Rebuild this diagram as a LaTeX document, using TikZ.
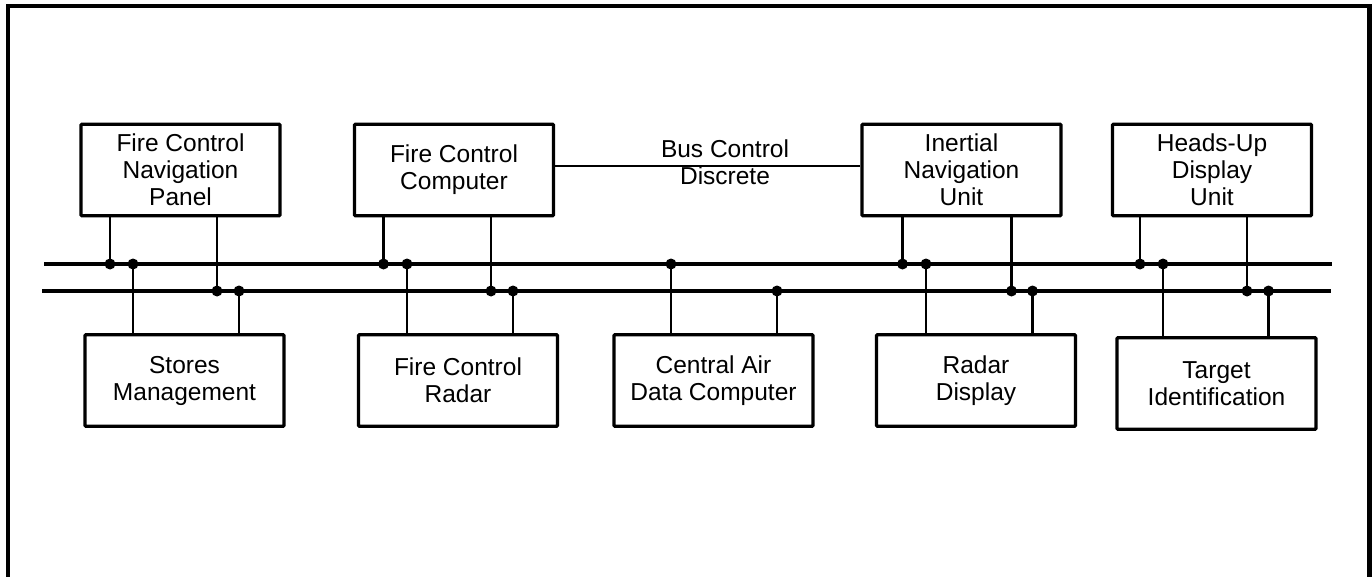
\documentclass[tikz,border=0pt]{standalone}
\usepackage{fontspec}
\setmainfont{Liberation Sans}
\usetikzlibrary{positioning}

\begin{document}
\begin{tikzpicture}[x=1pt, y=-1pt,
  box/.style={draw, line width=3.4pt, rounded corners=1pt, minimum width=199pt, minimum height=91.5pt, inner sep=0pt, align=center, font=\fontsize{24.5}{27}\selectfont},
  wire/.style={line width=2.2pt},
  bus/.style={line width=4.5pt},
  tap/.style={circle, fill, inner sep=0pt, minimum size=11pt}]
\useasboundingbox (0,0) rectangle (1372,577);
\draw [line width=4.5pt] (8,577) -- (8,6) -- (1369.5,6) -- (1369.5,577);
% top row
\node [box] (fcnp) at (180.5,170) {Fire Control\\Navigation\\Panel};
\node [box] (fcc) at (454,170) {Fire Control\\Computer};
\node [box] (inu) at (961.5,170) {Inertial\\Navigation\\Unit};
\node [box] (hud) at (1212,170) {Heads-Up\\Display\\Unit};
% bottom row
\node [box] (sm) at (184.5,380.5) {Stores\\Management};
\node [box] (fcr) at (458,380.5) {Fire Control\\Radar};
\node [box] (cadc) at (713.5,380.5) {Central Air\\Data Computer};
\node [box] (rd) at (976,380.5) {Radar\\Display};
\node [box] (tid) at (1216.5,383.5) {Target\\Identification};
% discrete
\node [align=center, inner sep=0pt, font=\fontsize{24.5}{27}\selectfont] (disc) at (725,162.5) {Bus Control\\Discrete};
\draw [wire] (fcc.east |- 0,166) -- (inu.west |- 0,166);
% buses
\coordinate (b1w) at (44,264);
\coordinate (b1e) at (1332,264);
\coordinate (b2w) at (42,291);
\coordinate (b2e) at (1331,291);
\draw [bus] (b1w) -- (b1e);
\draw [bus] (b2w) -- (b2e);
% taps on bus 1
\node [tap] (a1) at (110,264) {};
\node [tap] (a2) at (133,264) {};
\node [tap] (a3) at (383.5,264) {};
\node [tap] (a4) at (407,264) {};
\node [tap] (a5) at (671,264) {};
\node [tap] (a6) at (902.5,264) {};
\node [tap] (a7) at (926,264) {};
\node [tap] (a8) at (1140,264) {};
\node [tap] (a9) at (1163,264) {};
% taps on bus 2
\node [tap] (c1) at (217,291) {};
\node [tap] (c2) at (239,291) {};
\node [tap] (c3) at (491,291) {};
\node [tap] (c4) at (513,291) {};
\node [tap] (c5) at (777,291) {};
\node [tap] (c6) at (1011.5,291) {};
\node [tap] (c7) at (1032.5,291) {};
\node [tap] (c8) at (1247,291) {};
\node [tap] (c9) at (1268.5,291) {};
% stubs up
\draw [wire] (fcnp.south -| a1) -- (a1.center);
\draw [wire] (fcnp.south -| c1) -- (c1.center);
\draw [wire] (fcc.south -| a3) -- (a3.center);
\draw [wire] (fcc.south -| c3) -- (c3.center);
\draw [wire] (inu.south -| a6) -- (a6.center);
\draw [wire] (inu.south -| c6) -- (c6.center);
\draw [wire] (hud.south -| a8) -- (a8.center);
\draw [wire] (hud.south -| c8) -- (c8.center);
% stubs down
\draw [wire] (a2.center) -- (sm.north -| a2);
\draw [wire] (c2.center) -- (sm.north -| c2);
\draw [wire] (a4.center) -- (fcr.north -| a4);
\draw [wire] (c4.center) -- (fcr.north -| c4);
\draw [wire] (a5.center) -- (cadc.north -| a5);
\draw [wire] (c5.center) -- (cadc.north -| c5);
\draw [wire] (a7.center) -- (rd.north -| a7);
\draw [wire] (c7.center) -- (rd.north -| c7);
\draw [wire] (a9.center) -- (tid.north -| a9);
\draw [wire] (c9.center) -- (tid.north -| c9);
\end{tikzpicture}
\end{document}
